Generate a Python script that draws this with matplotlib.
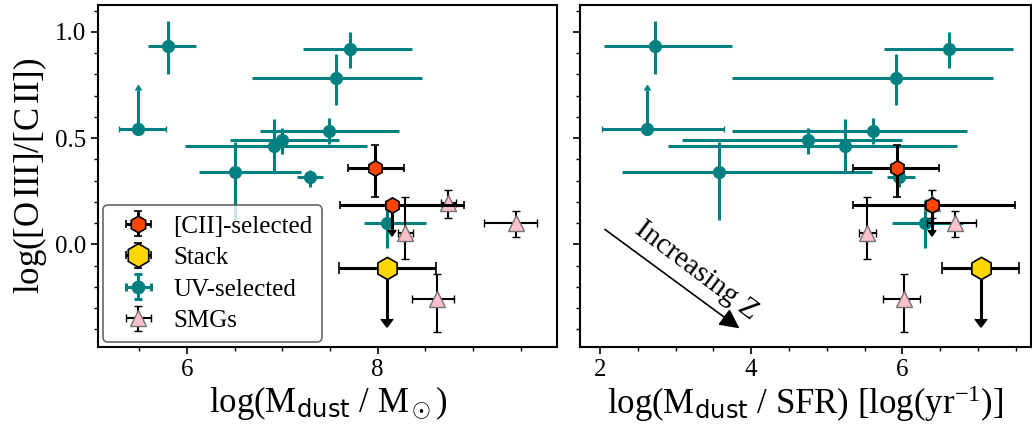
import matplotlib
matplotlib.use("Agg")
import matplotlib.pyplot as plt
from matplotlib.ticker import MultipleLocator
import numpy as np

plt.rcParams["font.family"] = ["Liberation Serif", "DejaVu Serif"]
plt.rcParams["mathtext.fontset"] = "custom"
plt.rcParams["mathtext.rm"] = "Liberation Serif"
plt.rcParams["mathtext.it"] = "Liberation Serif:italic"
plt.rcParams["mathtext.sf"] = "DejaVu Sans"

# --- UV-selected (teal) ---
uv_mdust = np.array([5.80, 7.71, 7.56, 5.49, 7.49, 6.995, 6.91, 6.51, 7.29, 8.10])
uv_mdust_lo = np.array([0.21, 0.49, 0.88, 0.20, 0.72, 0.545, 0.93, 0.38, 0.14, 0.24])
uv_mdust_hi = np.array([0.30, 0.65, 0.90, 0.29, 0.73, 0.595, 0.975, 0.69, 0.14, 0.41])
uv_tdep = np.array([2.727, 6.616, 5.91, 2.617, 5.615, 4.747, 5.24, 3.578, 5.955, 6.30])
uv_tdep_lo = np.array([0.67, 0.856, 2.168, 0.595, 1.873, 1.658, 2.336, 1.283, 0.165, 0.44])
uv_tdep_hi = np.array([1.015, 0.851, 1.29, 1.027, 1.245, 1.253, 1.486, 2.016, 0.215, 0.50])
uv_ratio = np.array([0.933, 0.922, 0.784, 0.542, 0.534, 0.49, 0.464, 0.339, 0.315, 0.099])
uv_ratio_lo = np.array([0.133, 0.094, 0.126, 0.0, 0.062, 0.065, 0.123, 0.225, 0.044, 0.118])
uv_ratio_hi = np.array([0.117, 0.078, 0.114, 0.184, 0.063, 0.058, 0.124, 0.144, 0.035, 0.109])
uv_lolim = np.array([False, False, False, True, False, False, False, False, False, False])

# --- [CII]-selected (orange) ---
cii_mdust = np.array([7.97, 8.155])
cii_mdust_lo = np.array([0.28, 0.545])
cii_mdust_hi = np.array([0.305, 0.745])
cii_tdep = np.array([5.933, 6.396])
cii_tdep_lo = np.array([0.583, 1.056])
cii_tdep_hi = np.array([0.557, 1.094])
cii_ratio = np.array([0.36, 0.185])
cii_ratio_lo = np.array([0.136, 0.118])
cii_ratio_hi = np.array([0.107, 0.0])
cii_uplim = np.array([False, True])

# --- Stack (yellow) ---
stk_mdust = np.array([8.094])
stk_mdust_lo = np.array([0.494])
stk_mdust_hi = np.array([0.516])
stk_tdep = np.array([7.04])
stk_tdep_lo = np.array([0.52])
stk_tdep_hi = np.array([0.50])
stk_ratio = np.array([-0.113])
stk_ratio_lo = np.array([0.24])
stk_ratio_hi = np.array([0.0])

# --- SMGs (pink) ---
smg_mdust = np.array([8.739, 8.286, 9.446, 8.624])
smg_mdust_lo = np.array([0.08, 0.076, 0.333, 0.264])
smg_mdust_hi = np.array([0.08, 0.084, 0.22, 0.176])
smg_tdep = np.array([6.39, 5.536, 6.696, 6.025])
smg_tdep_lo = np.array([0.08, 0.106, 0.366, 0.285])
smg_tdep_hi = np.array([0.08, 0.114, 0.274, 0.205])
smg_ratio = np.array([0.193, 0.055, 0.102, -0.257])
smg_ratio_lo = np.array([0.068, 0.126, 0.066, 0.154])
smg_ratio_hi = np.array([0.062, 0.169, 0.055, 0.117])

TEAL = "teal"
ORANGE = "orangered"
GOLD = "gold"
PINK = "pink"

fig = plt.figure(figsize=(10.32, 4.3), dpi=100)
ax1 = fig.add_axes([0.095, 0.193, 0.4448, 0.795])
ax2 = fig.add_axes([0.562, 0.193, 0.437, 0.795], sharey=ax1)


def draw(ax, x, uvlo, uvhi, ciix, ciilo, ciihi, stkx, stklo, stkhi, smgx, smglo, smghi):
    m = ~uv_lolim
    ax.errorbar(x[m], uv_ratio[m], xerr=[uvlo[m], uvhi[m]],
                yerr=[uv_ratio_lo[m], uv_ratio_hi[m]], fmt="o", color=TEAL,
                ms=8.5, elinewidth=2.2, capsize=0, zorder=2)
    ax.errorbar(x[uv_lolim], uv_ratio[uv_lolim], xerr=[uvlo[uv_lolim], uvhi[uv_lolim]],
                yerr=[uv_ratio_lo[uv_lolim], uv_ratio_hi[uv_lolim]], lolims=True,
                fmt="o", color=TEAL, ms=8.5, elinewidth=2.2, capsize=2.5, zorder=2)
    ax.errorbar(smgx, smg_ratio, xerr=[smglo, smghi], yerr=[smg_ratio_lo, smg_ratio_hi],
                fmt="^", color="k", mfc=PINK, mec="0.45", mew=1, ms=11,
                elinewidth=1.5, capsize=3, capthick=1.5, zorder=3)
    ax.errorbar(ciix, cii_ratio, xerr=[ciilo, ciihi], yerr=[cii_ratio_lo, cii_ratio_hi],
                uplims=cii_uplim, fmt="h", color="k", mfc=ORANGE, mec="k", mew=1.2,
                ms=11, elinewidth=2.2, capsize=3, capthick=2.2, zorder=4)
    ax.errorbar(stkx, stk_ratio, xerr=[stklo, stkhi], yerr=[stk_ratio_lo, stk_ratio_hi],
                uplims=[True], fmt="h", color="k", mfc=GOLD, mec="k", mew=1.2,
                ms=16, elinewidth=2.2, capsize=4, capthick=2.2, zorder=4)


draw(ax1, uv_mdust, uv_mdust_lo, uv_mdust_hi, cii_mdust, cii_mdust_lo, cii_mdust_hi,
     stk_mdust, stk_mdust_lo, stk_mdust_hi, smg_mdust, smg_mdust_lo, smg_mdust_hi)
draw(ax2, uv_tdep, uv_tdep_lo, uv_tdep_hi, cii_tdep, cii_tdep_lo, cii_tdep_hi,
     stk_tdep, stk_tdep_lo, stk_tdep_hi, smg_tdep, smg_tdep_lo, smg_tdep_hi)

# legend proxies (caps shown for every entry)
nan = [np.nan]
h_cii = ax1.errorbar(nan, nan, xerr=[1], yerr=[1], fmt="h", color="k", mfc=ORANGE,
                     mec="k", mew=1.2, ms=12, elinewidth=2.2, capsize=3, capthick=2.2)
h_stk = ax1.errorbar(nan, nan, xerr=[1], yerr=[1], fmt="h", color="k", mfc=GOLD,
                     mec="k", mew=1.2, ms=17, elinewidth=2.2, capsize=3, capthick=2.2)
h_uv = ax1.errorbar(nan, nan, xerr=[1], yerr=[1], fmt="o", color=TEAL, ms=9,
                    elinewidth=2.2, capsize=3, capthick=2.2)
h_smg = ax1.errorbar(nan, nan, xerr=[1], yerr=[1], fmt="^", color="k", mfc=PINK,
                     mec="0.45", mew=1, ms=12, elinewidth=1.5, capsize=3, capthick=1.5)
leg = ax1.legend([h_cii, h_stk, h_uv, h_smg], ["[CII]-selected", "Stack", "UV-selected", "SMGs"],
                 loc="lower left", fontsize=18, borderaxespad=0.2, labelspacing=0.36,
                 handletextpad=0.4, borderpad=0.4, framealpha=0.8, edgecolor="0.25")
leg.get_frame().set_linewidth(1.2)

ax2.annotate("", xy=(3.874, -0.403), xytext=(2.036, 0.078),
             arrowprops=dict(arrowstyle="-|>", color="k", lw=1.2, mutation_scale=30))
ax2.text(3.27, -0.125, "Increasing Z", rotation=-37, ha="center", va="center",
         fontsize=21, rotation_mode="anchor")

ax1.set_xlim(5.07, 9.88)
ax2.set_xlim(1.735, 7.70)
ax1.set_ylim(-0.483, 1.126)

ax1.xaxis.set_major_locator(MultipleLocator(2))
ax1.xaxis.set_minor_locator(MultipleLocator(0.5))
ax2.xaxis.set_major_locator(MultipleLocator(2))
ax2.xaxis.set_minor_locator(MultipleLocator(0.5))
ax1.yaxis.set_major_locator(MultipleLocator(0.5))
ax1.yaxis.set_minor_locator(MultipleLocator(0.1))
ax1.yaxis.set_major_formatter(plt.FormatStrFormatter("%.1f"))

for ax in (ax1, ax2):
    for s in ax.spines.values():
        s.set_linewidth(1.5)
    ax.tick_params(which="major", labelsize=18, length=5, width=1.2)
    ax.tick_params(which="minor", length=3, width=1.0)
ax2.tick_params(labelleft=False)

ax1.set_ylabel(r"log([O$\,$III]/[C$\,$II])", fontsize=25)
ax1.set_xlabel(r"log(M$_{\mathsf{dust}}$ / M$_\odot$)", fontsize=25, labelpad=2)
ax2.set_xlabel(r"log(M$_{\mathsf{dust}}$ / SFR) [log(yr$^{-1}$)]", fontsize=25, labelpad=2)

fig.savefig("out.png", dpi=100)
